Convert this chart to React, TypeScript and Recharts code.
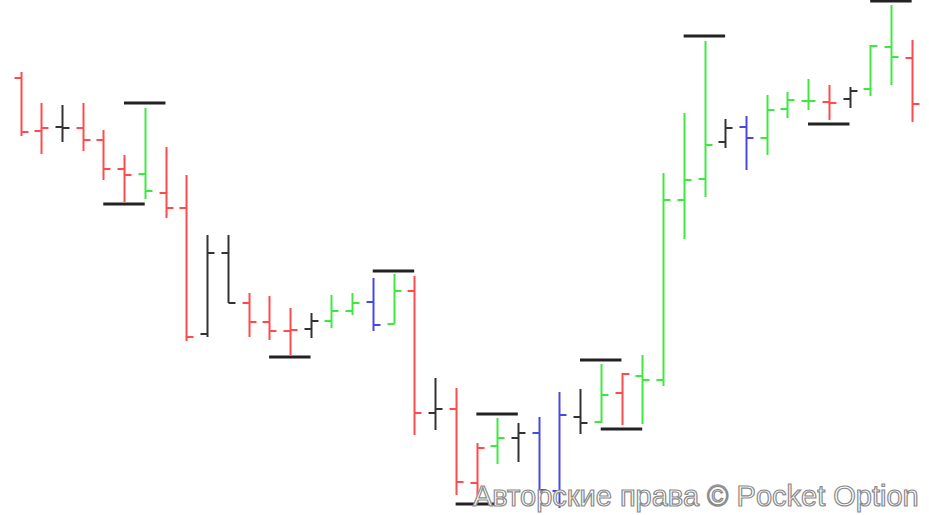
import React from 'react';
import { ComposedChart, Bar, XAxis, YAxis, ReferenceLine } from 'recharts';

// bar numbers (no visible axis in the picture)
const bars = [
  1, 2, 3, 4, 5, 6, 7, 8, 9, 10, 11, 12, 13, 14, 15, 16, 17, 18, 19, 20, 21, 22,
  23, 24, 25, 26, 27, 28, 29, 30, 31, 32, 33, 34, 35, 36, 37, 38, 39, 40, 41, 42, 43, 44,
];

const opens = [
  143.7, 138.4, 138.8, 138.7, 137.5, 134.6, 134.1, 132.2, 130.7, 118.1, 126.2,
  121.2, 119.3, 118.4, 118.6, 119.4, 120.4, 121.3, 119.1, 122.4, 110.2, 110.6,
  103.2, 106.9, 107.7, 108.2, 102.4, 109.8, 109.3, 112.2, 113.9, 113.5, 131.5,
  133.6, 137.3, 138.8, 137.7, 140.6, 141.4, 141.3, 141.6, 142.6, 146.8, 145.7,
];
const highs = [
  144.3, 141.2, 141.0, 141.2, 138.5, 136.0, 140.7, 136.8, 134.0, 128.0, 128.0,
  122.2, 121.9, 120.7, 120.2, 122.0, 122.2, 123.7, 124.1, 123.9, 113.7, 112.7,
  107.2, 109.7, 109.2, 109.8, 112.3, 112.6, 115.1, 114.2, 116.0, 134.2, 140.2,
  147.4, 139.6, 139.9, 142.0, 142.3, 143.6, 143.0, 142.8, 147.0, 151.0, 147.5,
];
const lows = [
  137.9, 136.1, 137.3, 136.4, 133.5, 131.3, 131.6, 129.7, 117.4, 117.8, 121.2,
  117.8, 117.5, 116.0, 117.7, 118.7, 120.0, 118.4, 119.1, 108.0, 108.5, 102.0,
  101.3, 105.1, 105.3, 100.7, 100.7, 108.1, 109.2, 109.0, 109.1, 112.9, 127.6,
  131.8, 136.7, 134.5, 136.0, 139.7, 140.5, 139.5, 140.7, 141.9, 143.0, 139.3,
];
const closes = [
  138.3, 138.7, 138.7, 137.5, 134.6, 134.0, 132.4, 130.7, 117.8, 126.2, 121.2,
  119.3, 118.4, 118.5, 119.4, 120.4, 121.2, 119.0, 122.4, 110.2, 110.6, 103.3,
  106.7, 107.7, 108.2, 102.5, 110.0, 109.2, 112.0, 114.1, 113.5, 131.5, 133.5,
  137.0, 138.7, 137.7, 140.5, 141.5, 141.4, 141.2, 142.4, 146.9, 145.8, 141.1,
];
// r = red, g = green, b = blue, k = black
const kinds = [
  'r', 'r', 'k', 'r', 'r', 'r', 'g', 'r', 'r', 'k', 'k',
  'r', 'r', 'r', 'k', 'g', 'g', 'b', 'g', 'r', 'k', 'r',
  'r', 'g', 'k', 'b', 'b', 'k', 'g', 'r', 'g', 'g', 'g',
  'g', 'k', 'b', 'g', 'g', 'g', 'r', 'k', 'g', 'g', 'r',
];

// support / resistance marks: bar number and price
const levelBars = [7, 6, 14, 19, 24, 23, 29, 30, 34, 40, 43];
const levelPrices = [141.2, 131.1, 115.8, 124.4, 110.1, 101.1, 115.5, 108.6, 147.9, 139.1, 151.4];

const palette: Record<string, string> = {
  r: '#ff4b4b',
  g: '#3ee83e',
  b: '#4848e0',
  k: '#333333',
};

const data = bars.map((n, i) => ({
  n,
  open: opens[i],
  high: highs[i],
  low: lows[i],
  close: closes[i],
  kind: kinds[i],
}));

const OhlcShape = (props: any) => {
  const { x, y, width, height, payload } = props;
  const { open, high, low, close, kind } = payload;
  const cx = Math.round(x + width / 2) + 0.5;
  const span = high - low;
  const yOf = (v: number) => y + ((high - v) / span) * height;
  const color = palette[kind];
  const tick = 7;
  return (
    <g stroke={color} strokeWidth={2}>
      <line x1={cx} x2={cx} y1={y} y2={y + height} />
      <line x1={cx - tick} x2={cx} y1={yOf(open)} y2={yOf(open)} />
      <line x1={cx} x2={cx + tick} y1={yOf(close)} y2={yOf(close)} />
    </g>
  );
};

const App: React.FC = () => {
  return (
    <div style={{ position: 'absolute', left: 0, top: 0, width: 929, height: 515, background: '#fff' }}>
      <ComposedChart
        width={929}
        height={515}
        data={data}
        margin={{ top: 0, right: 7, bottom: 0, left: 10 }}
        barCategoryGap={0}
      >
        <XAxis dataKey="n" type="category" hide />
        <YAxis type="number" domain={[100, 151.5]} hide allowDataOverflow />
        <Bar
          dataKey={(d: any) => [d.low, d.high]}
          shape={<OhlcShape />}
          isAnimationActive={false}
        />
        {levelBars.map((b, i) => (
          <ReferenceLine
            key={`lvl-${i}`}
            segment={[
              { x: b - 1, y: levelPrices[i] },
              { x: b + 1, y: levelPrices[i] },
            ]}
            stroke="#222"
            strokeWidth={3}
            ifOverflow="visible"
          />
        ))}
      </ComposedChart>
      <svg
        width={929}
        height={515}
        style={{ position: 'absolute', left: 0, top: 0, pointerEvents: 'none' }}
      >
        <text
          x={473}
          y={506}
          fontFamily="'Liberation Sans', Arial, sans-serif"
          fontSize={29}
          fill="#fff"
          stroke="#8a8a8a"
          strokeWidth={1.2}
        >
          Авторские права © Pocket Option
        </text>
      </svg>
    </div>
  );
};

export default App;
